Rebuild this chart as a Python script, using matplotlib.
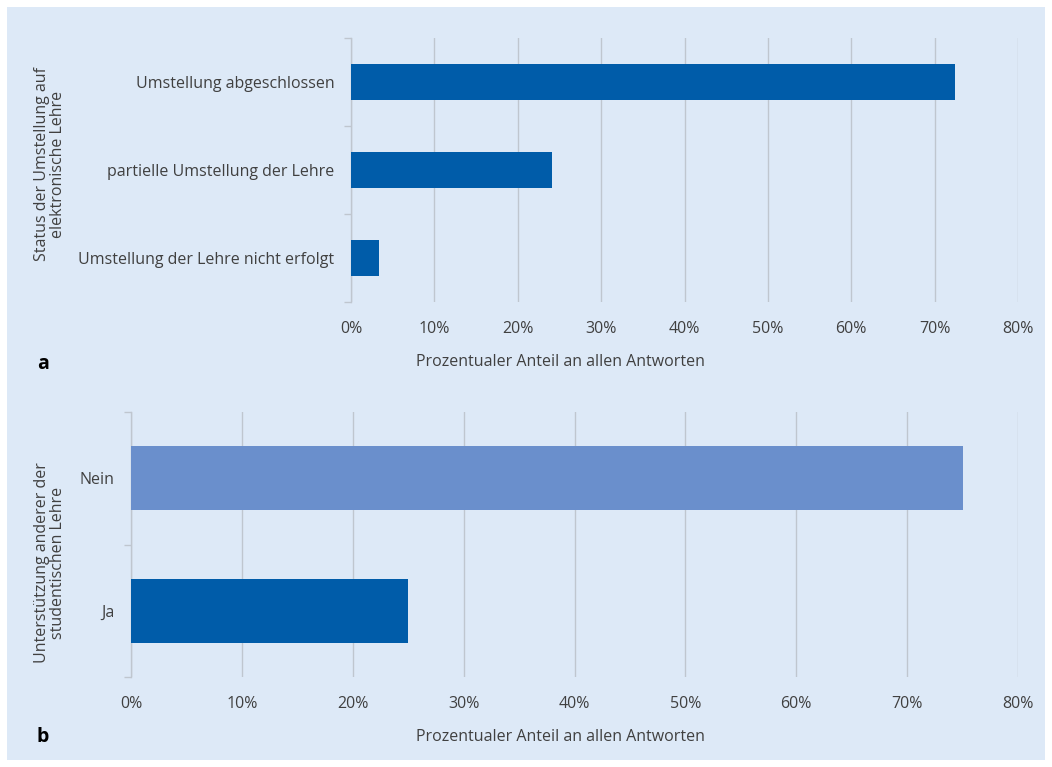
import matplotlib
matplotlib.use("Agg")
import matplotlib.pyplot as plt
from matplotlib.patches import Rectangle
from matplotlib.ticker import FixedLocator, PercentFormatter

plt.rcParams["font.family"] = ["Open Sans", "DejaVu Sans"]

# Teil a: Status der Umstellung
status_labels = ["Umstellung abgeschlossen", "partielle Umstellung der Lehre",
                 "Umstellung der Lehre nicht erfolgt"]
status_pct = [72.4, 24.1, 3.4]

# Teil b: Unterstützung anderer
support_labels = ["Nein", "Ja"]
support_pct = [75.0, 25.0]

xticks = [0, 10, 20, 30, 40, 50, 60, 70, 80]
xlabel = "Prozentualer Anteil an allen Antworten"

BG = "#dde9f7"
DARK = "#005ca9"
LIGHT = "#6a8fcc"
TXT = "#404040"
GRID = "#bfc6cf"
FS = 11.5

W, H = 1052, 767
fig = plt.figure(figsize=(W / 100, H / 100), dpi=100, facecolor="white")
fig.patches.append(Rectangle((7 / W, 7 / H), 1038 / W, 753 / H, transform=fig.transFigure,
                             facecolor=BG, edgecolor="none", zorder=-10))


def px_axes(x0, y0, x1, y1):
    return fig.add_axes([x0 / W, 1 - y1 / H, (x1 - x0) / W, (y1 - y0) / H])


def fig_text(x, y, s, **kw):
    # Position in Pixeln von oben links
    return fig.text(x / W, 1 - y / H, s, **kw)


def bar_panel(ax, labels, values, colors, height):
    n = len(labels)
    ypos = list(range(n))
    ax.barh(ypos, values, height=height, color=colors, zorder=3)
    ax.set_facecolor("none")
    ax.set_xlim(0, 80)
    ax.set_ylim(n - 0.5, -0.5)
    ax.xaxis.set_major_locator(FixedLocator(xticks))
    ax.xaxis.set_major_formatter(PercentFormatter(decimals=0))
    ax.grid(axis="x", color=GRID, lw=1.0, zorder=0)
    for s in ["top", "right", "bottom"]:
        ax.spines[s].set_visible(False)
    ax.spines["left"].set_color(GRID)
    ax.spines["left"].set_linewidth(1.0)
    ax.set_yticks(ypos)
    ax.set_yticklabels(labels)
    ax.yaxis.set_minor_locator(FixedLocator([i - 0.5 for i in range(n + 1)]))
    ax.tick_params(axis="y", which="major", length=0, pad=12, labelsize=FS, labelcolor=TXT)
    ax.tick_params(axis="y", which="minor", length=5, color=GRID, width=1.0)
    ax.tick_params(axis="x", length=0, pad=14, labelsize=FS, labelcolor=TXT)


ax_a = px_axes(351, 38, 1018, 302)
bar_panel(ax_a, status_labels, status_pct, [DARK] * 3, 0.4)

ax_b = px_axes(131, 412, 1018, 677)
bar_panel(ax_b, support_labels, support_pct, [LIGHT, DARK], 0.485)

# Achsentitel
fig_text(560, 362, xlabel, fontsize=FS, color=TXT, ha="center", va="center")
fig_text(560, 737, xlabel, fontsize=FS, color=TXT, ha="center", va="center")
fig_text(50, 164, "Status der Umstellung auf\nelektronische Lehre", fontsize=FS, color=TXT,
         rotation=90, ha="center", va="center", linespacing=1.0)
fig_text(50, 563, "Unterstützung anderer der\nstudentischen Lehre", fontsize=FS, color=TXT,
         rotation=90, ha="center", va="center", linespacing=1.0)

fig_text(37, 364, "a", fontsize=14, fontweight="bold", color="black", va="center")
fig_text(37, 737, "b", fontsize=14, fontweight="bold", color="black", va="center")

fig.savefig("out.png", dpi=100, facecolor="white")
